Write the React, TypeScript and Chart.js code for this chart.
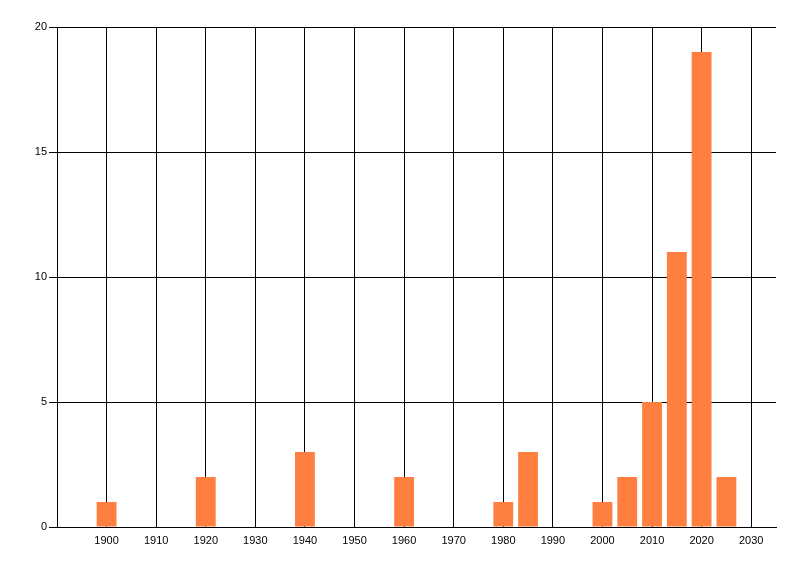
import React, { useEffect, useRef } from "react";
import { Chart, registerables } from "chart.js";

Chart.register(...registerables);

const years = [1900, 1920, 1940, 1960, 1980, 1985, 2000, 2005, 2010, 2015, 2020, 2025];
const counts = [1, 2, 3, 2, 1, 3, 1, 2, 5, 11, 19, 2];
const xTicks = [1900, 1910, 1920, 1930, 1940, 1950, 1960, 1970, 1980, 1990, 2000, 2010, 2020, 2030];
const yTicks = [0, 5, 10, 15, 20];

export default function App() {
  const ref = useRef<HTMLCanvasElement | null>(null);
  useEffect(() => {
    if (!ref.current) return;
    const font = { family: "'Liberation Sans', Arial, sans-serif", size: 11 };
    const chart = new Chart(ref.current, {
      type: "bar",
      data: {
        datasets: [
          {
            data: years.map((y, i) => ({ x: y, y: counts[i] })),
            backgroundColor: "#FF7F41",
            borderWidth: 0,
            categoryPercentage: 0.8,
            barPercentage: 1.0,
          },
        ],
      },
      options: {
        animation: false,
        responsive: false,
        maintainAspectRatio: false,
        layout: { padding: { top: 27, right: 24, left: 0, bottom: 0 } },
        plugins: { legend: { display: false }, tooltip: { enabled: false } },
        scales: {
          x: {
            type: "linear",
            offset: false,
            min: 1890,
            max: 2035,
            afterBuildTicks: (s: any) => {
              s.ticks = xTicks.map((v) => ({ value: v }));
            },
            afterFit: (s: any) => {
              s.height = 49;
            },
            ticks: { color: "#000", font, padding: 7, maxRotation: 0, autoSkip: false, callback: (v: any) => String(v) },
            grid: { color: "#000", lineWidth: 1, drawTicks: false, offset: false },
            border: { display: true, color: "#000", width: 1 },
          },
          y: {
            min: 0,
            max: 20,
            afterBuildTicks: (s: any) => {
              s.ticks = yTicks.map((v) => ({ value: v }));
            },
            afterFit: (s: any) => {
              s.width = 57;
            },
            ticks: { color: "#000", font, padding: 2 },
            grid: { color: "#000", lineWidth: 1, drawTicks: true, tickLength: 8 },
            border: { display: true, color: "#000", width: 1 },
          },
        },
      },
    });
    return () => chart.destroy();
  }, []);
  return (
    <div style={{ position: "absolute", left: 0, top: 0, width: 800, height: 576, background: "#fff" }}>
      <canvas ref={ref} width={800} height={576} style={{ width: 800, height: 576, display: "block" }} />
    </div>
  );
}
